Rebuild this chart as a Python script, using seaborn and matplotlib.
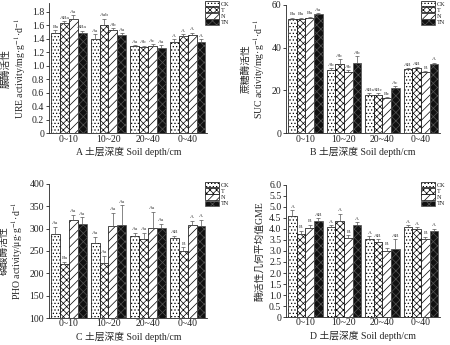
import matplotlib
matplotlib.use("Agg")
import matplotlib.pyplot as plt
import matplotlib.ticker as mticker
from matplotlib.patches import Patch
import numpy as np
import pandas as pd
import seaborn as sns

sns.set_style("ticks")
plt.rcParams['font.family'] = ['Liberation Serif', 'Noto Sans CJK SC']
plt.rcParams['mathtext.fontset'] = 'stix'
plt.rcParams['hatch.linewidth'] = 0.5

depths = ["0~10", "10~20", "20~40", "0~40"]
treatments = ["CK", "T", "N", "TN"]

# URE (panel A) values per treatment, per depth
ure_ck = [1.48, 1.39, 1.29, 1.36]
ure_t = [1.63, 1.60, 1.28, 1.44]
ure_n = [1.70, 1.53, 1.29, 1.46]
ure_tn = [1.49, 1.45, 1.26, 1.36]
ure_err_ck = [0.05, 0.08, 0.02, 0.03]
ure_err_t = [0.03, 0.10, 0.02, 0.03]
ure_err_n = [0.05, 0.03, 0.03, 0.03]
ure_err_tn = [0.03, 0.03, 0.05, 0.03]
ure_lab_ck = ["Ba", "Aa", "Aa", "A"]
ure_lab_t = ["ABa", "Aab", "Ab", "A"]
ure_lab_n = ["Aa", "Ab", "Ac", "A"]
ure_lab_tn = ["ABa", "Aa", "Aa", "A"]

# SUC (panel B)
suc_ck = [53.5, 29.5, 18.0, 30.0]
suc_t = [53.5, 32.5, 18.0, 30.5]
suc_n = [54.0, 28.5, 16.5, 28.5]
suc_tn = [55.5, 33.0, 21.0, 32.5]
suc_err_ck = [0.5, 1.0, 0.8, 0.5]
suc_err_t = [0.5, 2.0, 0.8, 0.5]
suc_err_n = [0.5, 1.0, 0.5, 0.5]
suc_err_tn = [0.5, 3.0, 1.0, 0.5]
suc_lab_ck = ["Ba", "Ab", "ABc", "AB"]
suc_lab_t = ["Ba", "Ab", "ABc", "AB"]
suc_lab_n = ["Ba", "Ab", "Bc", "B"]
suc_lab_tn = ["Aa", "Ab", "Ac", "A"]

# PHO (panel C)
pho_ck = [289, 267, 283, 280]
pho_t = [222, 224, 276, 250]
pho_n = [320, 306, 302, 307]
pho_tn = [310, 307, 302, 305]
pho_err_ck = [15, 15, 8, 3]
pho_err_t = [3, 15, 15, 8]
pho_err_n = [10, 30, 35, 10]
pho_err_tn = [15, 45, 8, 15]
pho_lab_ck = ["Aa", "Aa", "Aa", "AB"]
pho_lab_t = ["Ba", "Aa", "Aa", "B"]
pho_lab_n = ["Aa", "Aa", "Aa", "A"]
pho_lab_tn = ["Aa", "Aa", "Aa", "A"]

# GME (panel D)
gme_ck = [4.60, 4.07, 3.53, 4.08]
gme_t = [3.78, 4.35, 3.40, 3.98]
gme_n = [4.05, 3.58, 3.00, 3.55]
gme_tn = [4.35, 4.20, 3.08, 3.92]
gme_err_ck = [0.25, 0.10, 0.15, 0.10]
gme_err_t = [0.15, 0.35, 0.15, 0.10]
gme_err_n = [0.15, 0.15, 0.15, 0.10]
gme_err_tn = [0.15, 0.10, 0.45, 0.10]
gme_lab_ck = ["A", "A", "A", "A"]
gme_lab_t = ["B", "A", "AB", "A"]
gme_lab_n = ["B", "B", "B", "B"]
gme_lab_tn = ["AB", "A", "AB", "A"]

styles = {
    "CK": dict(face="white", edge="black", hatch="....."),
    "T": dict(face="white", edge="black", hatch="xxxxx"),
    "N": dict(face="white", edge="black", hatch="////"),
    "TN": dict(face="#111111", edge="#555555", hatch="xxxx"),
}

fig = plt.figure(figsize=(4.5, 3.45), dpi=100)

panels = [
    dict(rect=[0.109, 0.614, 0.352, 0.377], vals=[ure_ck, ure_t, ure_n, ure_tn],
         errs=[ure_err_ck, ure_err_t, ure_err_n, ure_err_tn],
         labs=[ure_lab_ck, ure_lab_t, ure_lab_n, ure_lab_tn],
         ylim=(0, 1.93), step=0.2, ylabel="脲酶活性\nURE activity/mg·g$^{-1}$·d$^{-1}$",
         xlabel="A 土层深度 Soil depth/cm", leg=(0.455, 1.0), off=0.02),
    dict(rect=[0.636, 0.614, 0.342, 0.372], vals=[suc_ck, suc_t, suc_n, suc_tn],
         errs=[suc_err_ck, suc_err_t, suc_err_n, suc_err_tn],
         labs=[suc_lab_ck, suc_lab_t, suc_lab_n, suc_lab_tn],
         ylim=(0, 60), step=20, ylabel="蔗糖酶活性\nSUC activity/mg·g$^{-1}$·d$^{-1}$",
         xlabel="B 土层深度 Soil depth/cm", leg=(0.935, 1.0), off=0.6),
    dict(rect=[0.109, 0.078, 0.352, 0.389], vals=[pho_ck, pho_t, pho_n, pho_tn],
         errs=[pho_err_ck, pho_err_t, pho_err_n, pho_err_tn],
         labs=[pho_lab_ck, pho_lab_t, pho_lab_n, pho_lab_tn],
         ylim=(100, 400), step=50, ylabel="磷酸酶活性\nPHO activity/μg·g$^{-1}$·d$^{-1}$",
         xlabel="C 土层深度 Soil depth/cm", leg=(0.455, 0.475), off=4),
    dict(rect=[0.636, 0.081, 0.342, 0.383], vals=[gme_ck, gme_t, gme_n, gme_tn],
         errs=[gme_err_ck, gme_err_t, gme_err_n, gme_err_tn],
         labs=[gme_lab_ck, gme_lab_t, gme_lab_n, gme_lab_tn],
         ylim=(0, 6.0), step=0.5, ylabel="酶活性几何平均值GME",
         xlabel="D 土层深度 Soil depth/cm", leg=(0.935, 0.475), off=0.06),
]


def fmt(v, pos):
    if abs(v) < 1e-9:
        return "0"
    if float(v).is_integer() and v >= 10:
        return "%d" % v
    return "%.1f" % v


for p in panels:
    ax = fig.add_axes(p["rect"])
    rows = []
    for ti, t in enumerate(treatments):
        for di, d in enumerate(depths):
            rows.append(dict(depth=d, trt=t, val=p["vals"][ti][di]))
    df = pd.DataFrame(rows)
    sns.barplot(data=df, x="depth", y="val", hue="trt", order=depths,
                hue_order=treatments, width=0.9, gap=0, errorbar=None,
                ax=ax, legend=False, palette=["white"] * 4)
    for ti, (t, cont) in enumerate(zip(treatments, ax.containers)):
        s = styles[t]
        xs = []
        for bar in cont:
            bar.set_facecolor(s["face"])
            bar.set_edgecolor(s["edge"])
            bar.set_hatch(s["hatch"])
            bar.set_linewidth(0.5)
            xs.append(bar.get_x() + bar.get_width() / 2)
        xs = np.array(xs)
        vals = np.array(p["vals"][ti], dtype=float)
        errs = np.array(p["errs"][ti], dtype=float)
        ax.errorbar(xs, vals, yerr=[np.zeros_like(errs), errs], fmt="none",
                    ecolor="#555555", elinewidth=0.5, capsize=1.2, capthick=0.5)
        for x, v, e, lab in zip(xs, vals, errs, p["labs"][ti]):
            ax.text(x, v + e + p["off"], lab, ha="center", va="bottom",
                    fontsize=3.9, color="#333333")
    ax.set_ylim(*p["ylim"])
    ax.set_xlim(-0.5, 3.5)
    ax.yaxis.set_major_locator(mticker.MultipleLocator(p["step"]))
    ax.yaxis.set_major_formatter(mticker.FuncFormatter(fmt))
    sns.despine(ax=ax)
    ax.tick_params(axis="both", labelsize=7, length=2, width=0.6, pad=1.5,
                   colors="#222222")
    ax.tick_params(axis="x", length=0, pad=1)
    for sp in ["left", "bottom"]:
        ax.spines[sp].set_linewidth(0.6)
    ax.set_ylabel(p["ylabel"], fontsize=7, linespacing=1.1, labelpad=3)
    ax.set_xlabel(p["xlabel"], fontsize=7, labelpad=2.5)
    handles = []
    for t in treatments:
        s = styles[t]
        handles.append(Patch(facecolor=s["face"], edgecolor=s["edge"],
                             hatch=s["hatch"], linewidth=0.5, label=t))
    fig.legend(handles=handles, loc="upper left", bbox_to_anchor=p["leg"],
               fontsize=4.5, frameon=False, handlelength=2.2, handleheight=1.0,
               labelspacing=0.05, handletextpad=0.3, borderpad=0.1,
               borderaxespad=0)

fig.savefig("out.png", dpi=100)
